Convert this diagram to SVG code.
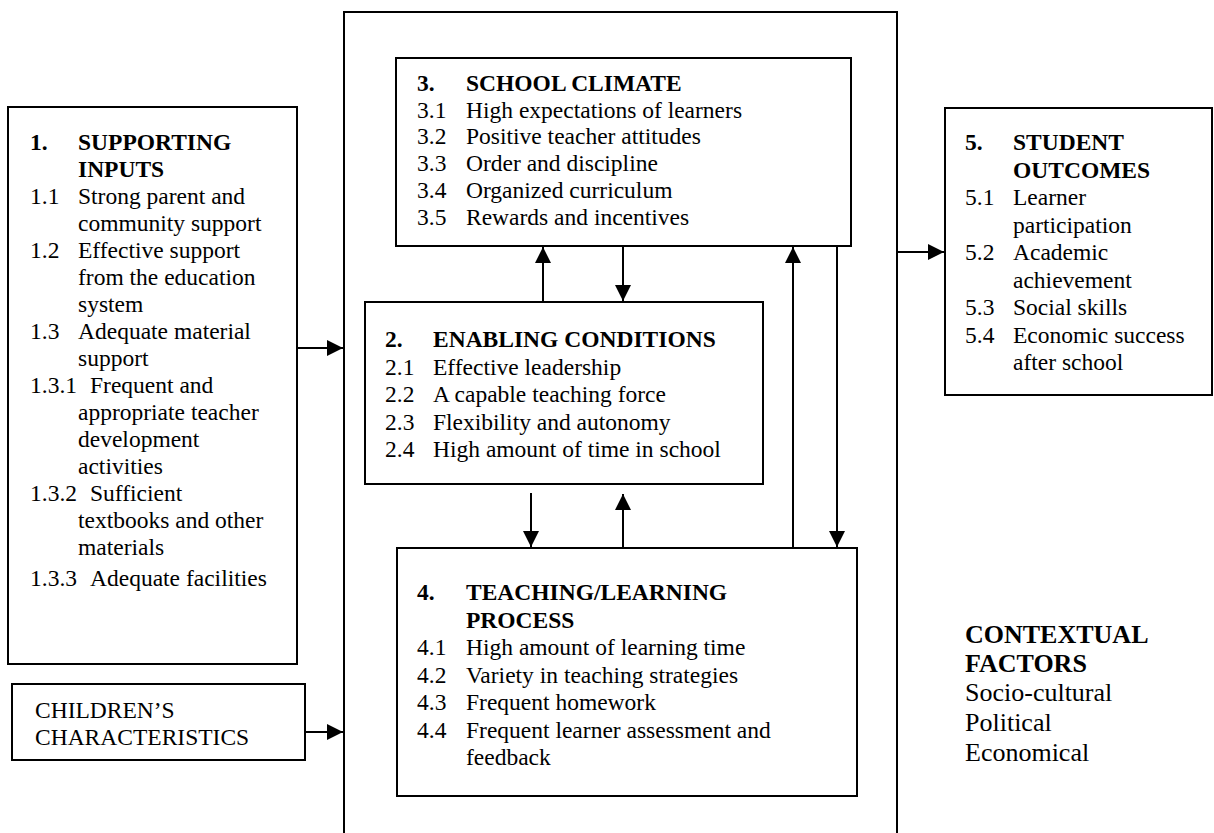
<svg xmlns="http://www.w3.org/2000/svg" width="1214" height="833" viewBox="0 0 1214 833">
<defs>
<style>
text{font-family:"Liberation Serif","Times New Roman",serif;font-size:23.5px;fill:#000}
.b{font-weight:bold}
.c{font-size:26px}
.box{fill:#fff;stroke:#000;stroke-width:2}
.ln{stroke:#000;stroke-width:2;fill:none}
</style>
<marker id="ah" markerUnits="userSpaceOnUse" markerWidth="16" markerHeight="16" viewBox="0 0 16 16" refX="16" refY="8" orient="auto">
<path d="M0,0 L16,8 L0,16 Z" fill="#000"/>
</marker>
</defs>
<rect width="1214" height="833" fill="#fff"/>

<g id="outer">
<path class="ln" d="M344,840 L344,12 L897,12 L897,840"/>
</g>

<g id="n1">
<rect class="box" x="8" y="107" width="289" height="557"/>
<text class="b" x="30" y="150">1.</text><text class="b" x="78" y="150">SUPPORTING</text>
<text class="b" x="78" y="177">INPUTS</text>
<text x="30" y="204">1.1</text><text x="78" y="204">Strong parent and</text>
<text x="78" y="231">community support</text>
<text x="30" y="258">1.2</text><text x="78" y="258">Effective support</text>
<text x="78" y="285">from the education</text>
<text x="78" y="312">system</text>
<text x="30" y="339">1.3</text><text x="78" y="339">Adequate material</text>
<text x="78" y="366">support</text>
<text x="30" y="393">1.3.1</text><text x="90" y="393">Frequent and</text>
<text x="78" y="420">appropriate teacher</text>
<text x="78" y="447">development</text>
<text x="78" y="474">activities</text>
<text x="30" y="501">1.3.2</text><text x="90" y="501">Sufficient</text>
<text x="78" y="528">textbooks and other</text>
<text x="78" y="555">materials</text>
<text x="30" y="586">1.3.3</text><text x="90" y="586">Adequate facilities</text>
</g>

<g id="children">
<rect class="box" x="12" y="684" width="293" height="76"/>
<text x="35" y="718">CHILDREN’S</text>
<text x="35" y="745">CHARACTERISTICS</text>
</g>

<g id="n3">
<rect class="box" x="396" y="58" width="455" height="188"/>
<text class="b" x="417" y="91">3.</text><text class="b" x="466" y="91">SCHOOL CLIMATE</text>
<text x="417" y="117.7">3.1</text><text x="466" y="117.7">High expectations of learners</text>
<text x="417" y="144.4">3.2</text><text x="466" y="144.4">Positive teacher attitudes</text>
<text x="417" y="171.1">3.3</text><text x="466" y="171.1">Order and discipline</text>
<text x="417" y="197.8">3.4</text><text x="466" y="197.8">Organized curriculum</text>
<text x="417" y="224.5">3.5</text><text x="466" y="224.5">Rewards and incentives</text>
</g>

<g id="n2">
<rect class="box" x="365" y="302" width="398" height="182"/>
<text class="b" x="385" y="347">2.</text><text class="b" x="433" y="347">ENABLING CONDITIONS</text>
<text x="385" y="374.5">2.1</text><text x="433" y="374.5">Effective leadership</text>
<text x="385" y="402">2.2</text><text x="433" y="402">A capable teaching force</text>
<text x="385" y="429.5">2.3</text><text x="433" y="429.5">Flexibility and autonomy</text>
<text x="385" y="457">2.4</text><text x="433" y="457">High amount of time in school</text>
</g>

<g id="n4">
<rect class="box" x="397" y="548" width="460" height="248"/>
<text class="b" x="417" y="600">4.</text><text class="b" x="466" y="600">TEACHING/LEARNING</text>
<text class="b" x="466" y="627.5">PROCESS</text>
<text x="417" y="655">4.1</text><text x="466" y="655">High amount of learning time</text>
<text x="417" y="682.5">4.2</text><text x="466" y="682.5">Variety in teaching strategies</text>
<text x="417" y="710">4.3</text><text x="466" y="710">Frequent homework</text>
<text x="417" y="737.5">4.4</text><text x="466" y="737.5">Frequent learner assessment and</text>
<text x="466" y="765">feedback</text>
</g>

<g id="n5">
<rect class="box" x="945" y="108" width="267" height="287"/>
<text class="b" x="965" y="150">5.</text><text class="b" x="1013" y="150">STUDENT</text>
<text class="b" x="1013" y="177.5">OUTCOMES</text>
<text x="965" y="205">5.1</text><text x="1013" y="205">Learner</text>
<text x="1013" y="232.5">participation</text>
<text x="965" y="260">5.2</text><text x="1013" y="260">Academic</text>
<text x="1013" y="287.5">achievement</text>
<text x="965" y="315">5.3</text><text x="1013" y="315">Social skills</text>
<text x="965" y="342.5">5.4</text><text x="1013" y="342.5">Economic success</text>
<text x="1013" y="370">after school</text>
</g>

<g id="context">
<text class="b c" x="965" y="643">CONTEXTUAL</text>
<text class="b c" x="965" y="672">FACTORS</text>
<text class="c" x="965" y="701">Socio-cultural</text>
<text class="c" x="965" y="731">Political</text>
<text class="c" x="965" y="761">Economical</text>
</g>

<g id="connectors">
<line class="ln" x1="297" y1="348" x2="343" y2="348" marker-end="url(#ah)"/>
<line class="ln" x1="305" y1="732" x2="343" y2="732" marker-end="url(#ah)"/>
<line class="ln" x1="897" y1="252" x2="944" y2="252" marker-end="url(#ah)"/>
<line class="ln" x1="543" y1="302" x2="543" y2="247" marker-end="url(#ah)"/>
<line class="ln" x1="623" y1="246" x2="623" y2="301" marker-end="url(#ah)"/>
<line class="ln" x1="531" y1="493" x2="531" y2="547" marker-end="url(#ah)"/>
<line class="ln" x1="623" y1="548" x2="623" y2="494" marker-end="url(#ah)"/>
<line class="ln" x1="793" y1="548" x2="793" y2="247" marker-end="url(#ah)"/>
<line class="ln" x1="837" y1="246" x2="837" y2="547" marker-end="url(#ah)"/>
</g>
</svg>
